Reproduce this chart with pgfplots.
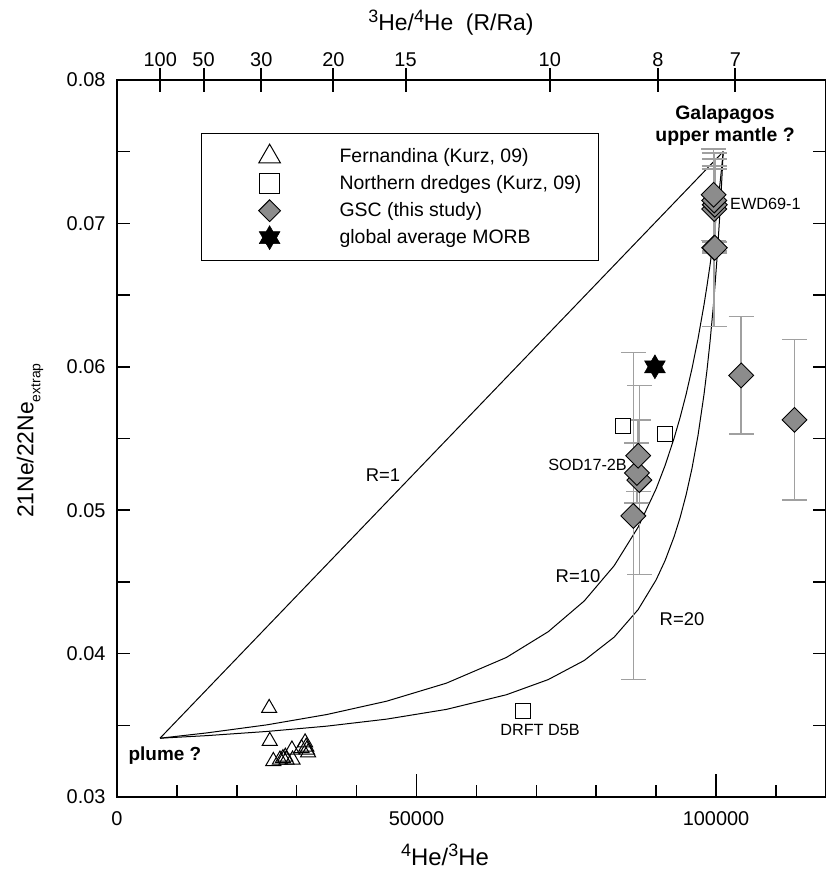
\documentclass[border=0pt]{standalone}
\usepackage{pgfplots}
\pgfplotsset{compat=1.18}
\usepackage{fontspec}
\setmainfont{Liberation Sans}
\definecolor{dgray}{HTML}{8C8C8C}
\definecolor{egray}{HTML}{A0A0A0}
\pgfdeclareplotmark{hexagram}{%
 \pgfpathmoveto{\pgfqpoint{0pt}{\pgfplotmarksize}}%
 \pgfpathlineto{\pgfqpoint{-0.866\pgfplotmarksize}{-0.5\pgfplotmarksize}}%
 \pgfpathlineto{\pgfqpoint{0.866\pgfplotmarksize}{-0.5\pgfplotmarksize}}%
 \pgfpathclose
 \pgfpathmoveto{\pgfqpoint{0pt}{-\pgfplotmarksize}}%
 \pgfpathlineto{\pgfqpoint{0.866\pgfplotmarksize}{0.5\pgfplotmarksize}}%
 \pgfpathlineto{\pgfqpoint{-0.866\pgfplotmarksize}{0.5\pgfplotmarksize}}%
 \pgfpathclose
 \pgfusepathqfillstroke}
\newcommand{\sups}[1]{\raisebox{0.38em}{\fontsize{18}{18}\selectfont #1}}
\begin{document}
\begin{tikzpicture}
\useasboundingbox (-117bp,-78bp) rectangle (709bp,797bp);
\begin{axis}[
 at={(0,0)}, anchor=south west,
 width=709bp, height=717bp, scale only axis,
 xmin=0, xmax=118360, ymin=0.03, ymax=0.08,
 scaled x ticks=false, scaled y ticks=false,
 xtick={0,50000,100000}, xticklabels={0,50000,100000},
 minor xtick={10000,20000,30000,40000,60000,70000,80000,90000,110000},
 ytick={0.03,0.04,0.05,0.06,0.07,0.08},
 yticklabels={0.03,0.04,0.05,0.06,0.07,0.08},
 minor ytick={0.035,0.045,0.055,0.065,0.075},
 xtick pos=bottom, ytick pos=both,
 tick align=inside,
 major tick length=13bp, minor tick length=13bp,
 major x tick style={/pgfplots/major tick length=23bp},
 minor x tick style={/pgfplots/minor tick length=12bp},
 axis line style={line width=1.5bp},
 tick style={line width=1.5bp, black},
 tick label style={font=\fontsize{20}{24}\selectfont},
 xticklabel style={yshift=-11bp},
 yticklabel style={xshift=-8bp},
 xlabel={\sups{4}He/\sups{3}He},
 every axis x label/.style={at={(axis description cs:0.4626,-0.0809)}, anchor=center, font=\fontsize{24}{28}\selectfont},
 ylabel={21Ne/22Ne\raisebox{-0.3em}{\fontsize{14}{14}\selectfont extrap}},
 every axis y label/.style={at={(axis description cs:-0.1227,0.497)}, rotate=90, anchor=center, font=\fontsize{23}{26}\selectfont},
 legend style={at={(axis description cs:0.1185,0.926)}, anchor=north west,
   draw=black, line width=1.2bp, inner xsep=17bp, inner ysep=9.5bp,
   font=\fontsize{19.5}{22}\selectfont, row sep=0bp, column sep=0bp,
   nodes={inner sep=0bp, draw=none}, cells={anchor=west}},
 legend cell align=left,
 legend image code/.code={\path[draw=none, fill=none] (-51bp,-13.5bp) rectangle (70bp,13.5bp); \draw[#1] plot coordinates {(0bp,0bp)};},
 clip=false,
]
% mixing curves
\addplot[black, line width=1bp, forget plot] coordinates {(7180,0.0341) (101200,0.0750)};
\addplot[black, line width=1bp, forget plot] coordinates {
(7180,0.0341) (15000,0.03447) (25000,0.03503) (35000,0.03575) (45000,0.03668)
(55000,0.03794) (65000,0.03973) (72000,0.04153) (78000,0.04367) (83000,0.04613)
(87000,0.04882) (90000,0.05149) (91500,0.05312) (93000,0.05502) (94000,0.05646)
(95000,0.05807) (96000,0.05990) (97000,0.06197) (98000,0.06434) (98500,0.06567)
(99000,0.06709) (99500,0.06864) (99800,0.06963) (100200,0.07103) (100700,0.07292)
(100950,0.07394) (101200,0.0750)};
\addplot[black, line width=1bp, forget plot] coordinates {
(7180,0.0341) (15000,0.03428) (25000,0.03457) (35000,0.03494) (45000,0.03543)
(55000,0.03611) (65000,0.03713) (72000,0.03819) (78000,0.03952) (83000,0.04115)
(87000,0.04307) (90000,0.04514) (91500,0.04649) (93000,0.04815) (94000,0.04948)
(95000,0.05106) (96000,0.05294) (97000,0.05523) (98000,0.05809) (98500,0.05980)
(99000,0.06175) (99500,0.06399) (99800,0.06551) (100200,0.06776) (100700,0.07105)
(100950,0.07293) (101200,0.0750)};
% GSC error bars (drawn behind the marks)
\addplot[only marks, mark=none, forget plot,
  error bars/.cd, y dir=both, y explicit,
  error bar style={draw=egray, line width=1.5bp},
  error mark options={draw=egray, line width=1.5bp, mark size=12.5bp, rotate=90}] coordinates {
(99700,0.0683) +- (0,0.0055)
(99800,0.0683) +- (0,0.0004)
(99700,0.0710) +- (0,0.0030)
(99800,0.0713) +- (0,0.0032)
(99700,0.0716) +- (0,0.0033)
(99600,0.0720) +- (0,0.0032)
(86200,0.0496) +- (0,0.0114)
(87200,0.0521) +- (0,0.0066)
(86800,0.0526) +- (0,0.0021)
(87000,0.0538) +- (0,0.0025)
(104200,0.0594) +- (0,0.0041)
(113100,0.0563) +- (0,0.0056)};
% Fernandina
\addplot[only marks, mark=triangle, mark size=8.7bp, mark options={draw=black, line width=1bp},
  legend image post style={mark size=12.5bp}] coordinates {
(25400,0.0362) (25500,0.0339) (26100,0.0325) (27200,0.0326) (27700,0.0327)
(28100,0.0328) (28300,0.0326) (29200,0.0333) (29300,0.0326) (30800,0.0334)
(31400,0.0338) (31600,0.0335) (31900,0.0331) (31700,0.0333)};
\addlegendentry{Fernandina (Kurz, 09)}
% Northern dredges
\addplot[only marks, mark=square*, mark size=7.5bp, mark options={draw=black, fill=white, line width=1bp},
  legend image post style={mark size=10.3bp}] coordinates {
(84500,0.0559) (91400,0.0553) (67800,0.0360)};
\addlegendentry{Northern dredges (Kurz, 09)}
% GSC
\addplot[only marks, mark=square*, mark size=8.8bp,
  mark options={rotate=45, draw=black, fill=dgray, line width=0.9bp},
  legend image post style={mark size=7.7bp}] coordinates {
(99700,0.0683) (99800,0.0683) (99700,0.0710) (99800,0.0713) (99700,0.0716) (99600,0.0720)
(86200,0.0496) (87200,0.0521) (86800,0.0526) (87000,0.0538)
(104200,0.0594) (113100,0.0563)};
\addlegendentry{GSC (this study)}
% MORB
\addplot[only marks, mark=hexagram, mark size=12bp, mark options={draw=black, fill=black, line width=0.5bp}] coordinates {(89800,0.0600)};
\addlegendentry{global average MORB}
% labels
\node[font=\fontsize{18.5}{20}\selectfont] at (axis cs:44410,0.05245) {R=1};
\node[font=\fontsize{18.5}{20}\selectfont] at (axis cs:76960,0.04541) {R=10};
\node[font=\fontsize{18.5}{20}\selectfont] at (axis cs:94320,0.04241) {R=20};
\node[font=\fontsize{16.3}{18}\selectfont, anchor=east, inner sep=0bp] at (axis cs:85140,0.05315) {SOD17-2B};
\node[font=\fontsize{16.3}{18}\selectfont, anchor=west, inner sep=0bp] at (axis cs:102340,0.07135) {EWD69-1};
\node[font=\fontsize{16.3}{18}\selectfont] at (axis cs:70620,0.03467) {DRFT D5B};
\node[font=\bfseries\fontsize{19}{22}\selectfont] at (axis cs:8000,0.0329) {plume ?};
\node[font=\bfseries\fontsize{19.5}{22}\selectfont, align=center] at (axis cs:101500,0.07686) {Galapagos\\upper mantle ?};
\end{axis}
\begin{axis}[
 at={(0,0)}, anchor=south west,
 width=709bp, height=717bp, scale only axis,
 xmin=0, xmax=118360, ymin=0.03, ymax=0.08,
 scaled x ticks=false, scaled y ticks=false,
 axis x line*=top, axis y line=none,
 xtick={7225,14451,24085,36127,48170,72254,90318,103220},
 xticklabels={100,50,30,20,15,10,8,7},
 tick align=center, major tick length=24bp,
 axis line style={line width=1.5bp},
 tick style={line width=2bp, black},
 tick label style={font=\fontsize{20}{24}\selectfont},
 xticklabel style={yshift=-2bp},
 xlabel={\sups{3}He/\sups{4}He\ \ (R/Ra)},
 every axis x label/.style={at={(axis description cs:0.471,1.080)}, anchor=center, font=\fontsize{23}{26}\selectfont},
]
\addplot[draw=none, forget plot] coordinates {(0,0.03)};
\end{axis}
\end{tikzpicture}
\end{document}
